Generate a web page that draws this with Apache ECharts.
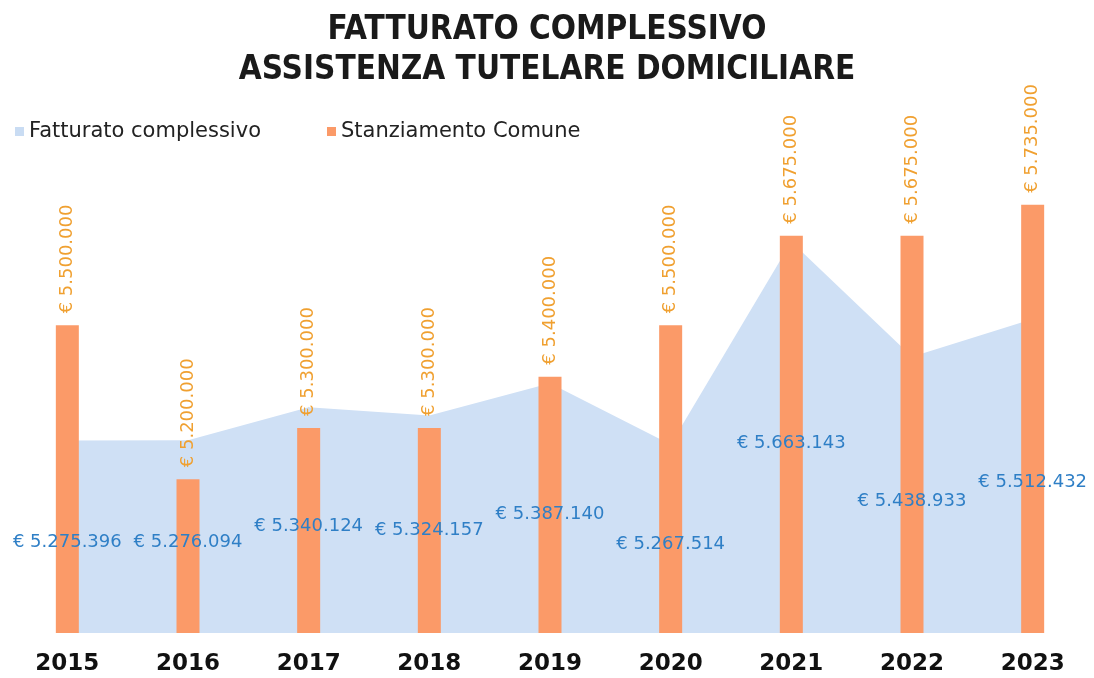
<!DOCTYPE html>
<html>
<head>
<meta charset="utf-8">
<script src="https://cdn.jsdelivr.net/npm/echarts@6/dist/echarts.min.js"></script>
<style>
  html, body { margin: 0; padding: 0; background: #ffffff; }
  #chart { width: 1094px; height: 678px; }
</style>
</head>
<body>
<div id="chart"></div>
<script>
let years = ["2015", "2016", "2017", "2018", "2019", "2020", "2021", "2022", "2023"];
let fatturato = [5275396, 5276094, 5340124, 5324157, 5387140, 5267514, 5663143, 5438933, 5512432];
let stanziamento = [5500000, 5200000, 5300000, 5300000, 5400000, 5500000, 5675000, 5675000, 5735000];

let euro = (v) => "€ " + String(v).replace(/\B(?=(\d{3})+(?!\d))/g, ".");

let gridBottom = 45;
let chart = echarts.init(document.getElementById("chart"));

// labels of the area sit halfway between the point and the base, like the Excel original
let midLabel = (params) => {
  let bottom = chart.getHeight() - gridBottom;
  let cy = params.rect.y + params.rect.height / 2;
  return {
    x: params.rect.x + params.rect.width / 2,
    y: (cy + bottom) / 2 + 6,
    align: "center",
    verticalAlign: "middle",
  };
};

let option = {
  backgroundColor: "#ffffff",
  title: {
    text: "FATTURATO COMPLESSIVO\nASSISTENZA TUTELARE DOMICILIARE",
    left: "center",
    top: 5,
    textStyle: {
      fontFamily: "DejaVu Sans Condensed",
      fontWeight: "bold",
      fontSize: 33,
      lineHeight: 40,
      color: "#1a1a1a",
    },
  },
  legend: {
    left: 10,
    top: 116,
    icon: "rect",
    itemWidth: 9,
    itemHeight: 9,
    itemGap: 66,
    textStyle: {
      fontFamily: "DejaVu Sans",
      fontSize: 21,
      color: "#222222",
    },
    data: [
      { name: "Fatturato complessivo", itemStyle: { color: "#c9dcf3", opacity: 1 } },
      { name: "Stanziamento Comune" },
    ],
  },
  grid: {
    left: 7,
    right: 1,
    top: 69,
    bottom: gridBottom,
  },
  xAxis: {
    type: "category",
    data: years,
    axisLine: { show: false },
    axisTick: { show: false },
    axisLabel: {
      margin: 20,
      fontFamily: "DejaVu Sans",
      fontWeight: "bold",
      fontSize: 23,
      color: "#111111",
    },
  },
  yAxis: {
    type: "value",
    min: 4900000,
    max: 6000000,
    show: false,
    splitLine: { show: false },
  },
  series: [
    {
      name: "Fatturato complessivo",
      type: "line",
      data: fatturato,
      symbol: "circle",
      symbolSize: 1,
      itemStyle: { color: "#c9dcf3" },
      lineStyle: { width: 0 },
      areaStyle: { color: "#cfe0f5", opacity: 1 },
      z: 1,
    },
    {
      name: "Stanziamento Comune",
      type: "bar",
      data: stanziamento,
      barWidth: 23,
      itemStyle: { color: "#fb9a68" },
      z: 2,
      label: {
        show: true,
        position: "top",
        rotate: 90,
        align: "left",
        verticalAlign: "middle",
        distance: 12,
        formatter: (p) => euro(p.value),
        fontFamily: "DejaVu Sans",
        fontSize: 18,
        color: "#f0a030",
      },
    },
    {
      // same data again, only to carry the blue labels above the bars
      name: "Fatturato complessivo",
      type: "line",
      data: fatturato,
      symbol: "circle",
      symbolSize: 1,
      itemStyle: { color: "rgba(0,0,0,0)" },
      lineStyle: { width: 0 },
      silent: true,
      z: 3,
      label: {
        show: true,
        formatter: (p) => euro(p.value),
        fontFamily: "DejaVu Sans",
        fontSize: 18,
        color: "#2f7fc6",
        opacity: 1,
      },
      labelLayout: midLabel,
    },
  ],
};

chart.setOption(option);
</script>
</body>
</html>
